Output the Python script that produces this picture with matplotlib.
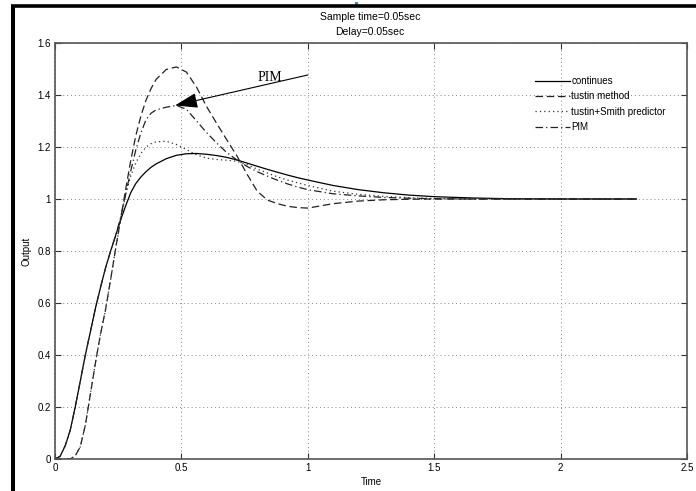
import matplotlib
matplotlib.use("Agg")
import matplotlib.pyplot as plt
from matplotlib.lines import Line2D
from matplotlib.patches import Rectangle

# ---- data ----
t = [0.00, 0.02, 0.04, 0.06, 0.08, 0.10, 0.12, 0.14, 0.16, 0.18, 0.20,
     0.22, 0.24, 0.26, 0.28, 0.30, 0.32, 0.34, 0.36, 0.38, 0.40,
     0.44, 0.48, 0.52, 0.56, 0.60, 0.64, 0.68, 0.72, 0.76, 0.80,
     0.84, 0.88, 0.92, 0.96, 1.00,
     1.10, 1.20, 1.30, 1.40, 1.50, 1.65, 1.80, 2.00, 2.15, 2.30]

continues = [0.00, 0.01, 0.05, 0.11, 0.20, 0.30, 0.40, 0.49, 0.58, 0.66, 0.735,
             0.80, 0.86, 0.92, 0.975, 1.025, 1.06, 1.085, 1.105, 1.122, 1.135,
             1.155, 1.168, 1.174, 1.175, 1.172, 1.167, 1.16, 1.15, 1.138, 1.126,
             1.114, 1.103, 1.092, 1.082, 1.073,
             1.052, 1.036, 1.024, 1.015, 1.009, 1.004, 1.001, 1.000, 1.000, 1.000]

tustin = [0.00, 0.00, 0.00, 0.00, 0.012, 0.047, 0.13, 0.25, 0.37, 0.48, 0.575,
          0.69, 0.81, 0.925, 1.04, 1.15, 1.245, 1.32, 1.38, 1.425, 1.46,
          1.498, 1.508, 1.488, 1.43, 1.355, 1.29, 1.227, 1.165, 1.095, 1.03,
          0.996, 0.982, 0.972, 0.967, 0.965,
          0.982, 0.992, 0.997, 0.999, 1.000, 1.000, 1.000, 1.000, 1.000, 1.000]

tustin_smith = [0.00, 0.00, 0.00, 0.00, 0.012, 0.047, 0.13, 0.25, 0.37, 0.48, 0.575,
                0.69, 0.81, 0.92, 1.02, 1.09, 1.14, 1.175, 1.20, 1.213, 1.22,
                1.222, 1.21, 1.19, 1.17, 1.157, 1.152, 1.149, 1.145, 1.132, 1.115,
                1.10, 1.085, 1.073, 1.062, 1.052,
                1.03, 1.018, 1.01, 1.005, 1.002, 1.001, 1.000, 1.000, 1.000, 1.000]

pim = [0.00, 0.01, 0.05, 0.11, 0.20, 0.30, 0.40, 0.49, 0.58, 0.66, 0.735,
       0.80, 0.86, 0.93, 1.02, 1.11, 1.19, 1.255, 1.305, 1.33, 1.343,
       1.353, 1.36, 1.345, 1.30, 1.255, 1.215, 1.178, 1.15, 1.125, 1.105,
       1.088, 1.072, 1.058, 1.046, 1.036,
       1.02, 1.012, 1.006, 1.003, 1.001, 1.000, 1.000, 1.000, 1.000, 1.000]

legend_labels = ["continues", "tustin method", "tustin+Smith predictor", "PIM"]
xticks = [0, 0.5, 1, 1.5, 2, 2.5]
xticklabels = ["0", "0.5", "1", "1.5", "2", "2.5"]
yticks = [0, 0.2, 0.4, 0.6, 0.8, 1.0, 1.2, 1.4, 1.6]
yticklabels = ["0", "0.2", "0.4", "0.6", "0.8", "1", "1.2", "1.4", "1.6"]

# ---- figure ----
plt.rcParams['font.family'] = ['Liberation Sans', 'DejaVu Sans']
fig = plt.figure(figsize=(6.96, 4.91), dpi=100)
W, H = 696.0, 491.0
ax = fig.add_axes([55 / W, 1 - 459 / H, (687 - 55) / W, (459 - 43) / H])

lw = 0.9
ax.plot(t, continues, color='k', lw=lw, ls='-', label=legend_labels[0])
ax.plot(t, tustin, color='#222222', lw=lw, ls=(0, (6, 3)), label=legend_labels[1])
ax.plot(t, tustin_smith, color='#333333', lw=lw, ls=(0, (1, 2.5)), label=legend_labels[2])
ax.plot(t, pim, color='#222222', lw=lw, ls=(0, (6, 2.5, 1, 2.5)), label=legend_labels[3])

ax.set_xlim(0, 2.5)
ax.set_ylim(0, 1.6)
ax.set_xticks(xticks)
ax.set_xticklabels(xticklabels)
ax.set_yticks(yticks)
ax.set_yticklabels(yticklabels)
ax.tick_params(direction='in', length=4, width=0.8, labelsize=7, color='#333333',
               top=True, right=True, pad=3)
for s in ax.spines.values():
    s.set_color('#555555')
    s.set_linewidth(1.2)
ax.grid(True, color='#888888', ls=(0, (1, 3)), lw=0.7)

ax.set_xlabel("Time", fontsize=7)
ax.set_ylabel("Output", fontsize=7)
ax.xaxis.set_label_coords((371 - 55) / 632, (459 - 477) / 416)
ax.yaxis.set_label_coords((31 - 55) / 632, 0.5)

leg = ax.legend(loc='upper left', bbox_to_anchor=((535 - 55) / 632, (459 - 76) / 416),
                frameon=False, fontsize=7, handlelength=3.6, handletextpad=0.15,
                labelspacing=0.55, borderpad=0, borderaxespad=0)

# title (two lines)
fig.text(370 / W, 1 - 17 / H, "Sample time=0.05sec", ha='center', va='center', fontsize=7.5)
fig.text(370 / W, 1 - 32 / H, "Delay=0.05sec", ha='center', va='center', fontsize=7.5)

# annotation arrow and text
ax.annotate('', xy=(0.475, 1.36), xytext=(1.0, 1.477),
            arrowprops=dict(arrowstyle='-|>,head_length=14,head_width=4.7',
                            mutation_scale=1, color='k', lw=0.8, shrinkA=0, shrinkB=0))
ax.text(0.851, 1.469, "PIM", family=['Liberation Serif', 'DejaVu Serif'], fontsize=10,
        ha='center', va='center')

# outer frame lines (left and top)
fig.add_artist(Line2D([13 / W, 13 / W], [0, 1 - 5.5 / H], transform=fig.transFigure,
                      color='k', lw=2.9, solid_capstyle='butt'))
fig.add_artist(Line2D([11 / W, 1], [1 - 5.5 / H, 1 - 5.5 / H], transform=fig.transFigure,
                      color='k', lw=2.6, solid_capstyle='butt'))
fig.add_artist(Rectangle((355 / W, 1 - 7 / H), 3 / W, 5 / H, transform=fig.transFigure,
                         color='#4a7fc1', lw=0))

fig.savefig("out.png", dpi=100)
